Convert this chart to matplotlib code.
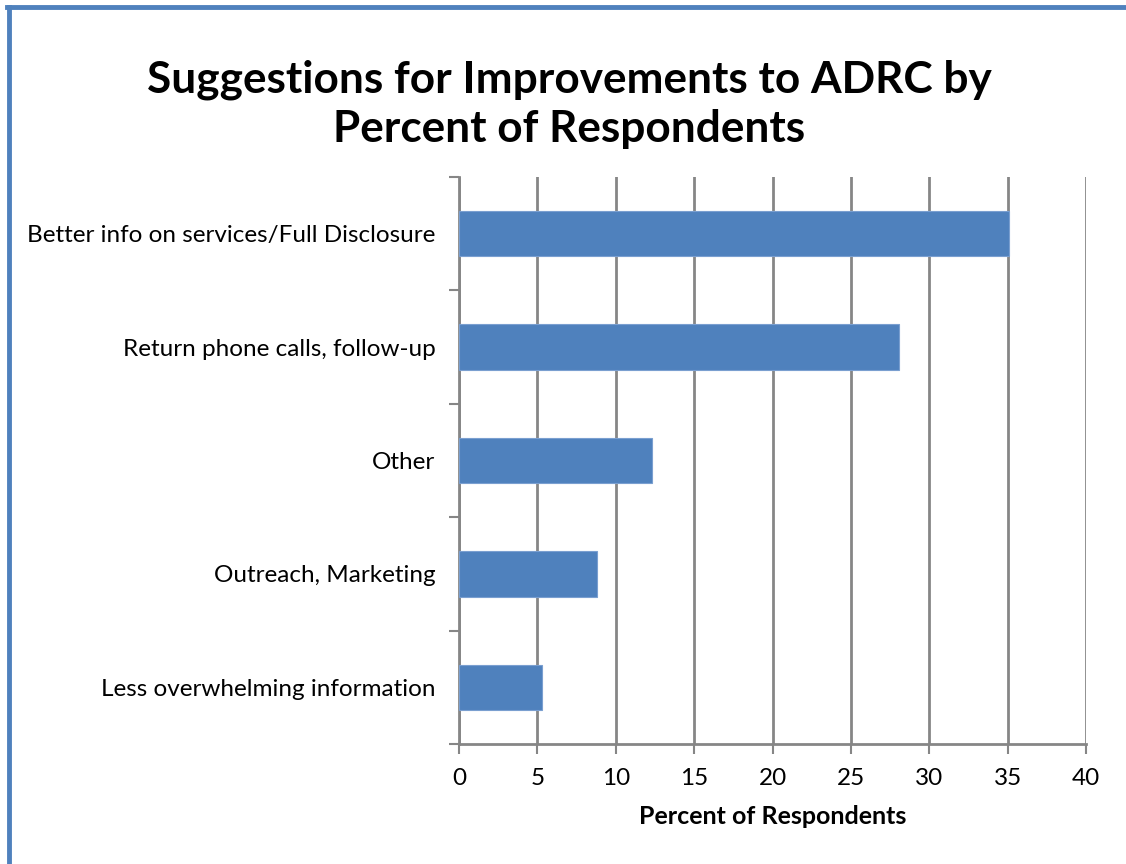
import matplotlib
matplotlib.use("Agg")
import matplotlib.pyplot as plt
from matplotlib.lines import Line2D

plt.rcParams['font.family'] = ['Lato', 'DejaVu Sans']

# data (percent of respondents)
categories = [
    "Better info on services/Full Disclosure",
    "Return phone calls, follow-up",
    "Other",
    "Outreach, Marketing",
    "Less overwhelming information",
]
percents = [35.1, 28.1, 12.3, 8.8, 5.3]
xticks = [0, 5, 10, 15, 20, 25, 30, 35, 40]

bar_color = "#4f81bd"
grid_color = "#868686"

fig = plt.figure(figsize=(11.26, 8.64), dpi=100)
ax = fig.add_axes([459 / 1126, 120 / 864, 627 / 1126, 567 / 864])

ypos = list(range(len(categories)))
ax.barh(ypos, percents, height=0.4, color=bar_color, edgecolor="#7a9fd0",
        linewidth=0.8, zorder=3)
ax.set_ylim(len(categories) - 0.5, -0.5)
ax.set_xlim(0, 40)
ax.set_xticks(xticks)
ax.set_xticklabels([str(t) for t in xticks], fontsize=17.5)
ax.set_yticks(ypos)
ax.set_yticklabels(categories, fontsize=17.5)
ax.tick_params(axis="y", length=0, pad=17)
ax.tick_params(axis="x", length=7, width=1.5, color=grid_color, pad=10)

# category separator ticks on y axis
ax.set_yticks([i - 0.5 for i in range(len(categories) + 1)], minor=True)
ax.tick_params(axis="y", which="minor", length=7, width=1.5, color=grid_color)

ax.grid(axis="x", color=grid_color, linewidth=2, zorder=0)
for side in ["top", "right"]:
    ax.spines[side].set_visible(False)
ax.spines["left"].set_color(grid_color)
ax.spines["left"].set_linewidth(2)
ax.spines["bottom"].set_color(grid_color)
ax.spines["bottom"].set_linewidth(2)

ax.set_xlabel("Percent of Respondents", fontsize=18, fontweight="bold", labelpad=12)

fig.text(569 / 1126, 1 - 104 / 864,
         "Suggestions for Improvements to ADRC by\nPercent of Respondents",
         ha="center", va="center", fontsize=31.8, fontweight="bold",
         linespacing=1.28)

# chart frame (left and top edges visible)
fig.add_artist(Line2D([8.5 / 1126, 8.5 / 1126], [0, 1 - 6.5 / 864],
                      transform=fig.transFigure, color=bar_color, linewidth=3.5))
fig.add_artist(Line2D([6.5 / 1126, 1], [1 - 6.5 / 864, 1 - 6.5 / 864],
                      transform=fig.transFigure, color=bar_color, linewidth=3.5))

fig.savefig("out.png", dpi=100)
